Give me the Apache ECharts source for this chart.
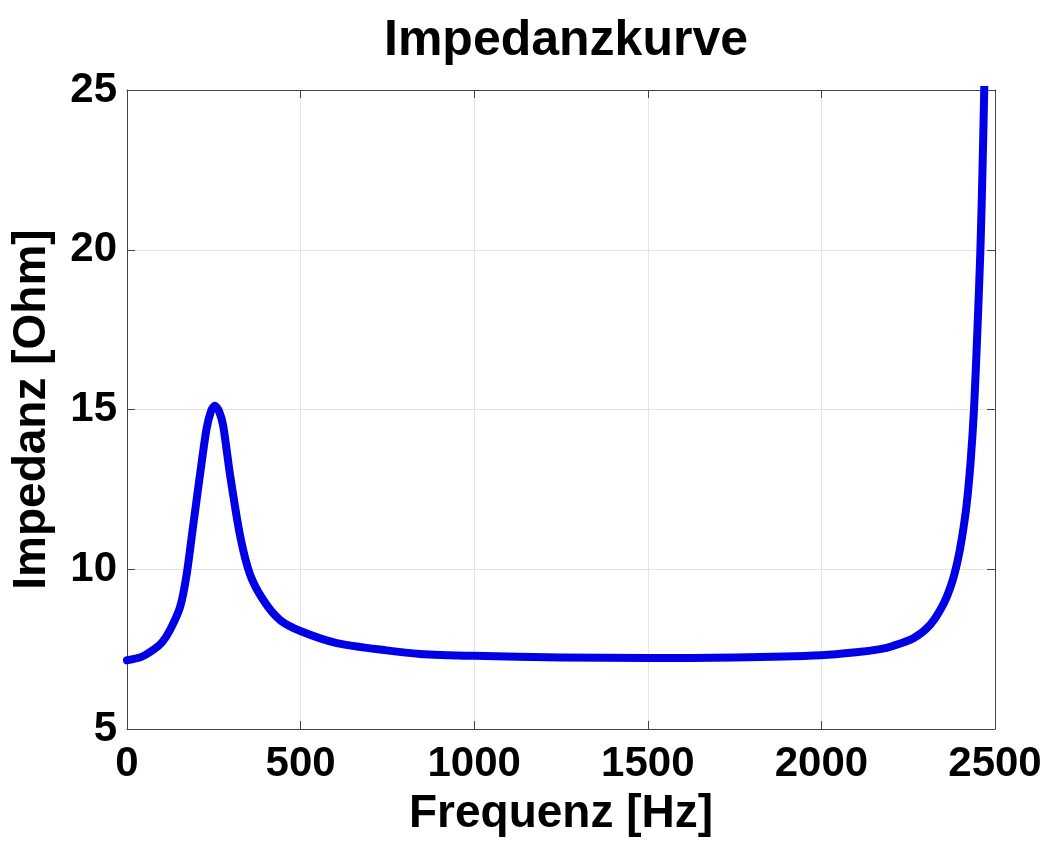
<!DOCTYPE html>
<html>
<head>
<meta charset="utf-8">
<script src="https://cdn.jsdelivr.net/npm/echarts@6/dist/echarts.min.js"></script>
<style>html,body{margin:0;padding:0;background:#fff}#c{width:1045px;height:842px}</style>
</head>
<body>
<div id="c"></div>
<script>
const titleText = 'Impedanzkurve';
const xName = 'Frequenz [Hz]';
const yName = 'Impedanz [Ohm]';
const xTicks = [0, 500, 1000, 1500, 2000, 2500];
const yTicks = [5, 10, 15, 20, 25];
const freq = [0, 40, 76, 100, 124, 153, 172, 191, 210, 229, 242, 253, 265, 277, 297, 325, 354, 393, 441, 503, 604, 748, 844, 1000, 1250, 1500, 1750, 2000, 2100, 2169, 2206, 2265, 2313, 2351, 2375, 2392, 2405, 2418, 2430, 2440, 2449, 2458, 2464, 2469, 2474];
const impedance = [7.15, 7.25, 7.48, 7.7, 8.1, 8.82, 9.85, 11.4, 12.94, 14.39, 14.95, 15.12, 14.95, 14.49, 12.94, 11.09, 9.85, 9.03, 8.41, 8.05, 7.69, 7.46, 7.35, 7.29, 7.24, 7.22, 7.24, 7.31, 7.4, 7.5, 7.6, 7.84, 8.26, 8.9, 9.55, 10.25, 11.0, 12.0, 13.4, 15.1, 17.4, 20.0, 22.5, 25.0, 28.0];

const FONT = '"Liberation Sans", Arial, Helvetica, sans-serif';
const data = freq.map((f, i) => [f, impedance[i]]);
const axisColor = '#444';
const chart = echarts.init(document.getElementById('c'), null, {renderer: 'canvas'});
const xMin = xTicks[0], xMax = xTicks[xTicks.length - 1], xInt = xTicks[1] - xTicks[0];
const yMin = yTicks[0], yMax = yTicks[yTicks.length - 1], yInt = yTicks[1] - yTicks[0];
const plain = (v) => String(v);
const boxAxis = (pos) => ({
  type: 'value', position: pos, min: pos === 'top' ? xMin : yMin, max: pos === 'top' ? xMax : yMax,
  interval: pos === 'top' ? xInt : yInt,
  axisLine: {show: true, onZero: false, lineStyle: {color: axisColor, width: 1}},
  axisTick: {show: true, inside: true, length: 8, lineStyle: {color: axisColor}},
  axisLabel: {show: false}, splitLine: {show: false}
});
chart.setOption({
  animation: false,
  backgroundColor: '#fff',
  title: {
    text: titleText, left: 561, textAlign: 'center', top: 11,
    textStyle: {fontFamily: FONT, fontWeight: 'bold', fontSize: 50, color: '#000'}
  },
  grid: {left: 127, right: 50, top: 90, bottom: 105, containLabel: false},
  xAxis: [{
    type: 'value', min: xMin, max: xMax, interval: xInt,
    name: xName, nameLocation: 'middle', nameGap: 62,
    nameTextStyle: {fontFamily: FONT, fontWeight: 'bold', fontSize: 46, color: '#000'},
    axisLine: {show: true, onZero: false, lineStyle: {color: axisColor, width: 1}},
    axisTick: {show: true, inside: true, length: 8, lineStyle: {color: axisColor}},
    axisLabel: {margin: 14, formatter: plain, fontFamily: FONT, fontWeight: 'bold', fontSize: 42, color: '#000'},
    splitLine: {show: true, lineStyle: {color: '#e4e4e4', width: 1}}
  }, boxAxis('top')],
  yAxis: [{
    type: 'value', min: yMin, max: yMax, interval: yInt,
    name: yName, nameLocation: 'middle', nameGap: 72, nameRotate: 90,
    nameTextStyle: {fontFamily: FONT, fontWeight: 'bold', fontSize: 46, color: '#000'},
    axisLine: {show: true, onZero: false, lineStyle: {color: axisColor, width: 1}},
    axisTick: {show: true, inside: true, length: 8, lineStyle: {color: axisColor}},
    axisLabel: {margin: 10, formatter: plain, fontFamily: FONT, fontWeight: 'bold', fontSize: 42, color: '#000'},
    splitLine: {show: true, lineStyle: {color: '#e4e4e4', width: 1}}
  }, boxAxis('right')],
  series: [{
    type: 'line', data: data, showSymbol: false, smooth: 0.25, clip: true,
    lineStyle: {color: '#0000e6', width: 8, join: 'round', cap: 'round'}
  }]
});
</script>
</body>
</html>
